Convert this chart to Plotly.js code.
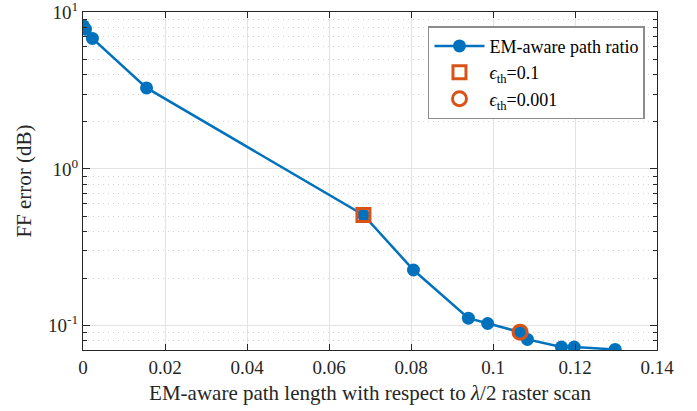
<!DOCTYPE html>
<html>
<head>
<meta charset="utf-8">
<script src="https://cdn.plot.ly/plotly-3.0.1.min.js"></script>
<style>html,body{margin:0;padding:0;background:#fff;}#chart{width:697px;height:411px;}</style>
</head>
<body>
<div id="chart"></div>
<script>
// Data
const pathRatio = [0.0001, 0.0006, 0.0023, 0.0155, 0.0684, 0.0806, 0.0940, 0.0987, 0.1066, 0.1084, 0.1167, 0.1198, 0.1298];
const ffError   = [8.17, 7.77, 6.78, 3.28, 0.508, 0.2265, 0.1117, 0.1033, 0.0910, 0.0818, 0.0731, 0.0731, 0.0706];
const eps01X = [0.0684];
const eps01Y = [0.508];
const eps0001X = [0.1066];
const eps0001Y = [0.0910];
const yTickVals = [0.1, 1, 10];
const yTickText = ['10<sup>-1</sup>', '10<sup>0</sup>', '10<sup>1</sup>'];
const xTickVals = [0, 0.02, 0.04, 0.06, 0.08, 0.1, 0.12, 0.14];
const xTickText = ['0', '0.02', '0.04', '0.06', '0.08', '0.1', '0.12', '0.14'];

const blue = '#0072BD';
const orange = '#D95319';
const font = '"Liberation Serif", "Times New Roman", Times, serif';

const traces = [
  {x: pathRatio, y: ffError, mode: 'lines+markers', name: 'EM-aware path ratio',
   line: {color: blue, width: 2.5}, marker: {color: blue, size: 13, symbol: 'circle'}},
  {x: eps01X, y: eps01Y, mode: 'markers', name: '<i>ϵ</i><sub>th</sub>=0.1',
   marker: {symbol: 'square-open', size: 13, color: orange, line: {color: orange, width: 3}}},
  {x: eps0001X, y: eps0001Y, mode: 'markers', name: '<i>ϵ</i><sub>th</sub>=0.001',
   marker: {symbol: 'circle-open', size: 14, color: orange, line: {color: orange, width: 3}}}
];

const layout = {
  width: 697, height: 411,
  margin: {l: 83, r: 40, t: 12, b: 61},
  paper_bgcolor: '#fff', plot_bgcolor: '#fff',
  font: {family: font, size: 19, color: '#262626'},
  showlegend: true,
  legend: {x: 0.601, y: 0.958, xanchor: 'left', yanchor: 'top',
    bgcolor: '#fff', bordercolor: '#8c8c8c', borderwidth: 1.5, itemwidth: 50,
    font: {family: font, size: 18, color: '#000'}, tracegroupgap: 0},
  xaxis: {
    range: [0, 0.14], tickmode: 'array', tickvals: xTickVals, ticktext: xTickText,
    showline: true, linecolor: '#262626', linewidth: 1, mirror: 'ticks',
    ticks: 'inside', ticklen: 6, tickcolor: '#262626', ticklabeloverflow: 'allow',
    showgrid: true, gridcolor: '#e3e3e3', gridwidth: 1, zeroline: false,
    title: {text: 'EM-aware path length with respect to <i>λ</i>/2 raster scan', font: {family: font, size: 21, color: '#262626'}, standoff: 8},
    tickfont: {family: font, size: 19, color: '#262626'}
  },
  yaxis: {
    type: 'log', range: [Math.log10(0.07), 1],
    tickmode: 'array', tickvals: yTickVals, ticktext: yTickText,
    showline: true, linecolor: '#262626', linewidth: 1, mirror: 'ticks',
    ticks: 'inside', ticklen: 7, tickcolor: '#262626', ticklabeloverflow: 'allow',
    showgrid: true, gridcolor: '#e3e3e3', gridwidth: 1, zeroline: false,
    minor: {dtick: 'D1', ticks: 'inside', ticklen: 4, tickcolor: '#262626',
            showgrid: true, gridcolor: '#d2d2d2', griddash: '1px,4px', gridwidth: 1},
    title: {text: 'FF error (dB)', font: {family: font, size: 21, color: '#262626'}, standoff: 10},
    tickfont: {family: font, size: 19, color: '#262626'}
  }
};

Plotly.newPlot('chart', traces, layout, {displayModeBar: false, staticPlot: true});
</script>
</body>
</html>
